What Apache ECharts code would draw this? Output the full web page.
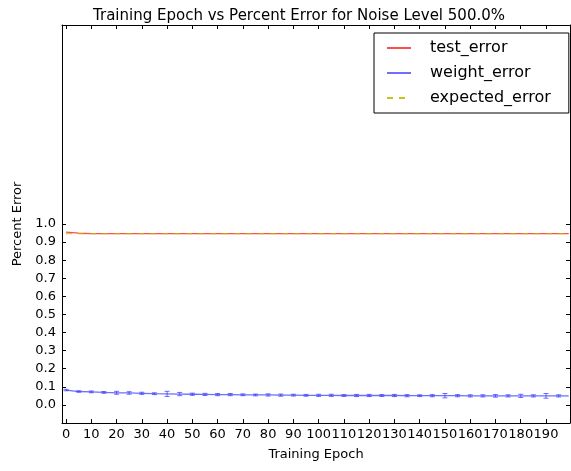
<!DOCTYPE html>
<html>
<head>
<meta charset="utf-8">
<script src="https://cdn.jsdelivr.net/npm/echarts@6/dist/echarts.min.js"></script>
<style>
html,body{margin:0;padding:0;background:#fff;}
#chart{width:571px;height:471px;}
</style>
</head>
<body>
<div id="chart"></div>
<script>
var titleText = 'Training Epoch vs Percent Error for Noise Level 500.0%';
var xTicks = [0,10,20,30,40,50,60,70,80,90,100,110,120,130,140,150,160,170,180,190];
var yTicks = [0.0,0.1,0.2,0.3,0.4,0.5,0.6,0.7,0.8,0.9,1.0];
var epochs = [0,5,10,15,20,25,30,35,40,45,50,55,60,65,70,75,80,85,90,95,100,105,110,115,120,125,130,135,140,145,150,155,160,165,170,175,180,185,190,195,199];
var testError = [0.955,0.949,0.947,0.947,0.947,0.947,0.947,0.947,0.947,0.947,0.947,0.947,0.947,0.947,0.947,0.947,0.947,0.947,0.947,0.947,0.947,0.947,0.947,0.947,0.947,0.947,0.947,0.947,0.947,0.947,0.947,0.947,0.947,0.947,0.947,0.947,0.947,0.947,0.947,0.947,0.947];
var weightError = [0.082,0.074,0.072,0.069,0.067,0.066,0.064,0.062,0.061,0.060,0.059,0.058,0.057,0.057,0.056,0.055,0.055,0.054,0.054,0.053,0.053,0.053,0.052,0.052,0.052,0.052,0.052,0.051,0.051,0.051,0.051,0.051,0.050,0.050,0.050,0.050,0.050,0.050,0.050,0.050,0.050];
var weightStd = [0.004,0.004,0.005,0.005,0.008,0.007,0.006,0.005,0.014,0.009,0.006,0.006,0.006,0.006,0.005,0.005,0.006,0.006,0.005,0.005,0.006,0.006,0.005,0.006,0.006,0.005,0.006,0.006,0.005,0.006,0.012,0.006,0.006,0.006,0.007,0.006,0.009,0.006,0.013,0.006,0.000];
var expectedError = [0.946,0.946,0.946,0.946,0.946,0.946,0.946,0.946,0.946,0.946,0.946,0.946,0.946,0.946,0.946,0.946,0.946,0.946,0.946,0.946,0.946,0.946,0.946,0.946,0.946,0.946,0.946,0.946,0.946,0.946,0.946,0.946,0.946,0.946,0.946,0.946,0.946,0.946,0.946,0.946,0.946];

var FONT = 'DejaVu Sans';
function pairs(xs, ys){ return xs.map(function(x,i){ return [x, ys[i]]; }); }
var errData = epochs.map(function(x,i){ return [x, weightError[i]-weightStd[i], weightError[i]+weightStd[i]]; }).filter(function(d,i){ return weightStd[i] > 0; });

var chart = echarts.init(document.getElementById('chart'), null, {renderer:'canvas'});
var axisCommon = {
  type:'value',
  splitLine:{show:false},
  axisLine:{show:true, onZero:false, lineStyle:{color:'#000', width:1}},
};
var option = {
  animation:false,
  backgroundColor:'#fff',
  title:{
    text:titleText, left:294, top:4, textAlign:'center',
    textStyle:{fontFamily:FONT, fontSize:15, fontWeight:'normal', color:'#000'}
  },
  legend:{
    orient:'vertical', left:374, top:33,
    data:['test_error','weight_error','expected_error'],
    selectedMode:false,
    itemWidth:24, itemHeight:12, itemGap:9,
    itemStyle:{opacity:0},
    padding:[7,18,7,12],
    borderColor:'#000', borderWidth:1, backgroundColor:'#fff',
    textStyle:{fontFamily:FONT, fontSize:16, color:'#000', padding:[0,0,0,14]}
  },
  grid:{left:62, right:1, top:25, bottom:48},
  xAxis:[
    Object.assign({}, axisCommon, {
      min:-1.6, max:199.5, position:'bottom',
      axisTick:{show:true, inside:true, length:4, customValues:xTicks, lineStyle:{color:'#000'}},
      axisLabel:{customValues:xTicks, margin:5, fontFamily:FONT, fontSize:13, color:'#000', formatter:function(v){return String(v);}},
      name:'Training Epoch', nameLocation:'middle', nameGap:25,
      nameTextStyle:{fontFamily:FONT, fontSize:13, color:'#000'}
    }),
    Object.assign({}, axisCommon, {
      min:-1.6, max:199.5, position:'top',
      axisTick:{show:true, inside:true, length:4, customValues:xTicks, lineStyle:{color:'#000'}},
      axisLabel:{show:false}
    })
  ],
  yAxis:[
    Object.assign({}, axisCommon, {
      min:-0.1, max:2.1, position:'left',
      axisTick:{show:true, inside:true, length:4, customValues:yTicks, lineStyle:{color:'#000'}},
      axisLabel:{customValues:yTicks, margin:6, fontFamily:FONT, fontSize:13, color:'#000', formatter:function(v){return v.toFixed(1);}},
      name:'Percent Error', nameLocation:'middle', nameGap:30, nameRotate:90,
      nameTextStyle:{fontFamily:FONT, fontSize:13, color:'#000'}
    }),
    Object.assign({}, axisCommon, {
      min:-0.1, max:2.1, position:'right',
      axisTick:{show:true, inside:true, length:4, customValues:yTicks, lineStyle:{color:'#000'}},
      axisLabel:{show:false}
    })
  ],
  series:[
    {
      name:'test_error', type:'line', symbol:'none', data:pairs(epochs,testError),
      lineStyle:{color:'#ff2020', width:1.3, opacity:0.8}, itemStyle:{color:'#ff2020'}
    },
    {
      name:'weight_error', type:'line', symbol:'none', data:pairs(epochs,weightError),
      lineStyle:{color:'#3030ff', width:1.3, opacity:0.7}, itemStyle:{color:'#3030ff'}
    },
    {
      name:'weight_error_bars', type:'custom', data:errData,
      renderItem:function(params, api){
        var x = api.value(0);
        var lo = api.coord([x, api.value(1)]);
        var hi = api.coord([x, api.value(2)]);
        var c = 2.5;
        var st = {stroke:'#3030ff', lineWidth:1, opacity:0.7};
        return {type:'group', children:[
          {type:'line', shape:{x1:lo[0], y1:lo[1], x2:hi[0], y2:hi[1]}, style:st},
          {type:'line', shape:{x1:lo[0]-c, y1:lo[1], x2:lo[0]+c, y2:lo[1]}, style:st},
          {type:'line', shape:{x1:hi[0]-c, y1:hi[1], x2:hi[0]+c, y2:hi[1]}, style:st}
        ]};
      },
      encode:{x:0, y:[1,2]}, z:3
    },
    {
      name:'expected_error', type:'line', symbol:'none', data:pairs(epochs,expectedError),
      lineStyle:{color:'#bfbf00', width:1.2, type:[6,6], opacity:0.9}, itemStyle:{color:'#bfbf00'}
    }
  ]
};
chart.setOption(option);
</script>
</body>
</html>
